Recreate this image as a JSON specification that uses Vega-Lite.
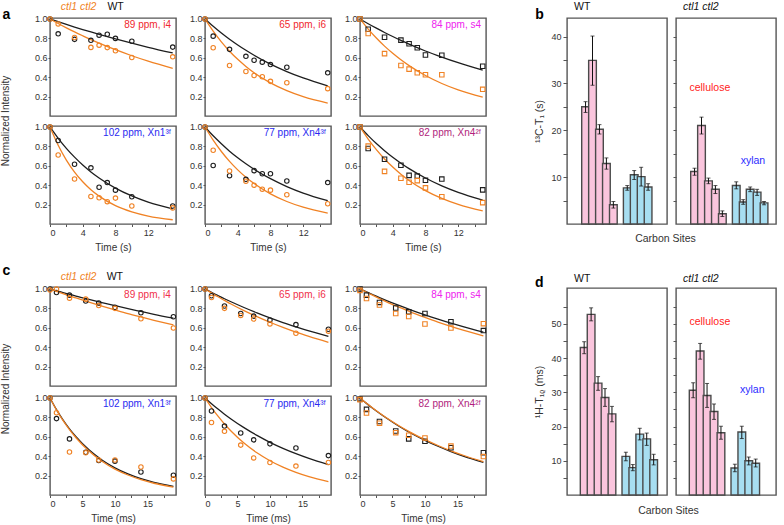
{
"$schema": "https://vega.github.io/schema/vega-lite/v6.json",
"padding": {"left": 0, "top": 1, "right": 0, "bottom": 0},
"background": "white",
"config": {
 "font": "Liberation Sans",
 "view": {"stroke": "#555", "strokeWidth": 1.4},
 "axis": {"labelFontSize": 9, "titleFontSize": 10, "titleFontWeight": "normal", "labelColor": "#333", "titleColor": "#333", "tickColor": "#555", "grid": false, "domain": false}
},
"datasets": {
 "a": [
  {"p":1,"s":"WT","k":"pt","t":0,"v":1.0},{"p":1,"s":"WT","k":"pt","t":1,"v":0.847},{"p":1,"s":"WT","k":"pt","t":3,"v":0.79},{"p":1,"s":"WT","k":"pt","t":5,"v":0.78},{"p":1,"s":"WT","k":"pt","t":6,"v":0.833},{"p":1,"s":"WT","k":"pt","t":7,"v":0.843},{"p":1,"s":"WT","k":"pt","t":8,"v":0.80},{"p":1,"s":"WT","k":"pt","t":10,"v":0.77},{"p":1,"s":"WT","k":"pt","t":15,"v":0.71},
  {"p":1,"s":"ctl","k":"pt","t":0,"v":1.0},{"p":1,"s":"ctl","k":"pt","t":1,"v":0.949},{"p":1,"s":"ctl","k":"pt","t":3,"v":0.809},{"p":1,"s":"ctl","k":"pt","t":5,"v":0.707},{"p":1,"s":"ctl","k":"pt","t":6,"v":0.73},{"p":1,"s":"ctl","k":"pt","t":7,"v":0.705},{"p":1,"s":"ctl","k":"pt","t":8,"v":0.673},{"p":1,"s":"ctl","k":"pt","t":10,"v":0.603},{"p":1,"s":"ctl","k":"pt","t":15,"v":0.61},
  {"p":2,"s":"WT","k":"pt","t":0,"v":1.0},{"p":2,"s":"WT","k":"pt","t":1,"v":0.823},{"p":2,"s":"WT","k":"pt","t":3,"v":0.687},{"p":2,"s":"WT","k":"pt","t":5,"v":0.615},{"p":2,"s":"WT","k":"pt","t":6,"v":0.575},{"p":2,"s":"WT","k":"pt","t":7,"v":0.555},{"p":2,"s":"WT","k":"pt","t":8,"v":0.53},{"p":2,"s":"WT","k":"pt","t":10,"v":0.503},{"p":2,"s":"WT","k":"pt","t":15,"v":0.445},
  {"p":2,"s":"ctl","k":"pt","t":0,"v":1.0},{"p":2,"s":"ctl","k":"pt","t":1,"v":0.704},{"p":2,"s":"ctl","k":"pt","t":3,"v":0.52},{"p":2,"s":"ctl","k":"pt","t":5,"v":0.459},{"p":2,"s":"ctl","k":"pt","t":6,"v":0.418},{"p":2,"s":"ctl","k":"pt","t":7,"v":0.405},{"p":2,"s":"ctl","k":"pt","t":8,"v":0.357},{"p":2,"s":"ctl","k":"pt","t":10,"v":0.343},{"p":2,"s":"ctl","k":"pt","t":15,"v":0.282},
  {"p":3,"s":"WT","k":"pt","t":0,"v":1.0},{"p":3,"s":"WT","k":"pt","t":1,"v":0.894},{"p":3,"s":"WT","k":"pt","t":3,"v":0.812},{"p":3,"s":"WT","k":"pt","t":5,"v":0.782},{"p":3,"s":"WT","k":"pt","t":6,"v":0.745},{"p":3,"s":"WT","k":"pt","t":7,"v":0.704},{"p":3,"s":"WT","k":"pt","t":8,"v":0.629},{"p":3,"s":"WT","k":"pt","t":10,"v":0.626},{"p":3,"s":"WT","k":"pt","t":15,"v":0.513},
  {"p":3,"s":"ctl","k":"pt","t":0,"v":1.0},{"p":3,"s":"ctl","k":"pt","t":1,"v":0.85},{"p":3,"s":"ctl","k":"pt","t":3,"v":0.643},{"p":3,"s":"ctl","k":"pt","t":5,"v":0.52},{"p":3,"s":"ctl","k":"pt","t":6,"v":0.483},{"p":3,"s":"ctl","k":"pt","t":7,"v":0.445},{"p":3,"s":"ctl","k":"pt","t":8,"v":0.425},{"p":3,"s":"ctl","k":"pt","t":10,"v":0.425},{"p":3,"s":"ctl","k":"pt","t":15,"v":0.275},
  {"p":4,"s":"WT","k":"pt","t":0,"v":1.0},{"p":4,"s":"WT","k":"pt","t":1,"v":0.86},{"p":4,"s":"WT","k":"pt","t":3,"v":0.616},{"p":4,"s":"WT","k":"pt","t":5,"v":0.579},{"p":4,"s":"WT","k":"pt","t":6,"v":0.379},{"p":4,"s":"WT","k":"pt","t":7,"v":0.427},{"p":4,"s":"WT","k":"pt","t":8,"v":0.349},{"p":4,"s":"WT","k":"pt","t":10,"v":0.281},{"p":4,"s":"WT","k":"pt","t":15,"v":0.186},
  {"p":4,"s":"ctl","k":"pt","t":0,"v":1.0},{"p":4,"s":"ctl","k":"pt","t":1,"v":0.711},{"p":4,"s":"ctl","k":"pt","t":3,"v":0.464},{"p":4,"s":"ctl","k":"pt","t":5,"v":0.284},{"p":4,"s":"ctl","k":"pt","t":6,"v":0.271},{"p":4,"s":"ctl","k":"pt","t":7,"v":0.23},{"p":4,"s":"ctl","k":"pt","t":8,"v":0.267},{"p":4,"s":"ctl","k":"pt","t":10,"v":0.186},{"p":4,"s":"ctl","k":"pt","t":15,"v":0.166},
  {"p":5,"s":"WT","k":"pt","t":0,"v":1.0},{"p":5,"s":"WT","k":"pt","t":1,"v":0.603},{"p":5,"s":"WT","k":"pt","t":3,"v":0.498},{"p":5,"s":"WT","k":"pt","t":5,"v":0.46},{"p":5,"s":"WT","k":"pt","t":6,"v":0.55},{"p":5,"s":"WT","k":"pt","t":7,"v":0.518},{"p":5,"s":"WT","k":"pt","t":8,"v":0.518},{"p":5,"s":"WT","k":"pt","t":10,"v":0.443},{"p":5,"s":"WT","k":"pt","t":15,"v":0.427},
  {"p":5,"s":"ctl","k":"pt","t":0,"v":1.0},{"p":5,"s":"ctl","k":"pt","t":1,"v":0.76},{"p":5,"s":"ctl","k":"pt","t":3,"v":0.546},{"p":5,"s":"ctl","k":"pt","t":5,"v":0.44},{"p":5,"s":"ctl","k":"pt","t":6,"v":0.40},{"p":5,"s":"ctl","k":"pt","t":7,"v":0.359},{"p":5,"s":"ctl","k":"pt","t":8,"v":0.349},{"p":5,"s":"ctl","k":"pt","t":10,"v":0.301},{"p":5,"s":"ctl","k":"pt","t":15,"v":0.209},
  {"p":6,"s":"WT","k":"pt","t":0,"v":1.0},{"p":6,"s":"WT","k":"pt","t":1,"v":0.778},{"p":6,"s":"WT","k":"pt","t":3,"v":0.667},{"p":6,"s":"WT","k":"pt","t":5,"v":0.606},{"p":6,"s":"WT","k":"pt","t":6,"v":0.501},{"p":6,"s":"WT","k":"pt","t":7,"v":0.494},{"p":6,"s":"WT","k":"pt","t":8,"v":0.45},{"p":6,"s":"WT","k":"pt","t":10,"v":0.463},{"p":6,"s":"WT","k":"pt","t":15,"v":0.352},
  {"p":6,"s":"ctl","k":"pt","t":0,"v":1.0},{"p":6,"s":"ctl","k":"pt","t":1,"v":0.803},{"p":6,"s":"ctl","k":"pt","t":3,"v":0.542},{"p":6,"s":"ctl","k":"pt","t":5,"v":0.471},{"p":6,"s":"ctl","k":"pt","t":6,"v":0.43},{"p":6,"s":"ctl","k":"pt","t":7,"v":0.447},{"p":6,"s":"ctl","k":"pt","t":8,"v":0.372},{"p":6,"s":"ctl","k":"pt","t":10,"v":0.281},{"p":6,"s":"ctl","k":"pt","t":15,"v":0.22},
  {"p":1,"s":"WT","k":"fit","t":0,"v":1},{"p":1,"s":"WT","k":"fit","t":1,"v":0.972},{"p":1,"s":"WT","k":"fit","t":2,"v":0.944},{"p":1,"s":"WT","k":"fit","t":3,"v":0.917},{"p":1,"s":"WT","k":"fit","t":4,"v":0.891},{"p":1,"s":"WT","k":"fit","t":5,"v":0.866},{"p":1,"s":"WT","k":"fit","t":6,"v":0.842},{"p":1,"s":"WT","k":"fit","t":8,"v":0.795},{"p":1,"s":"WT","k":"fit","t":10,"v":0.75},{"p":1,"s":"WT","k":"fit","t":12,"v":0.708},{"p":1,"s":"WT","k":"fit","t":15,"v":0.65},
  {"p":1,"s":"ctl","k":"fit","t":0,"v":1},{"p":1,"s":"ctl","k":"fit","t":1,"v":0.953},{"p":1,"s":"ctl","k":"fit","t":2,"v":0.909},{"p":1,"s":"ctl","k":"fit","t":3,"v":0.867},{"p":1,"s":"ctl","k":"fit","t":4,"v":0.827},{"p":1,"s":"ctl","k":"fit","t":5,"v":0.788},{"p":1,"s":"ctl","k":"fit","t":6,"v":0.751},{"p":1,"s":"ctl","k":"fit","t":8,"v":0.683},{"p":1,"s":"ctl","k":"fit","t":10,"v":0.621},{"p":1,"s":"ctl","k":"fit","t":12,"v":0.565},{"p":1,"s":"ctl","k":"fit","t":15,"v":0.49},
  {"p":2,"s":"WT","k":"fit","t":0,"v":1},{"p":2,"s":"WT","k":"fit","t":1,"v":0.925},{"p":2,"s":"WT","k":"fit","t":2,"v":0.855},{"p":2,"s":"WT","k":"fit","t":3,"v":0.791},{"p":2,"s":"WT","k":"fit","t":4,"v":0.732},{"p":2,"s":"WT","k":"fit","t":5,"v":0.677},{"p":2,"s":"WT","k":"fit","t":6,"v":0.626},{"p":2,"s":"WT","k":"fit","t":8,"v":0.535},{"p":2,"s":"WT","k":"fit","t":10,"v":0.458},{"p":2,"s":"WT","k":"fit","t":12,"v":0.392},{"p":2,"s":"WT","k":"fit","t":15,"v":0.31},
  {"p":2,"s":"ctl","k":"fit","t":0,"v":1},{"p":2,"s":"ctl","k":"fit","t":1,"v":0.874},{"p":2,"s":"ctl","k":"fit","t":2,"v":0.764},{"p":2,"s":"ctl","k":"fit","t":3,"v":0.668},{"p":2,"s":"ctl","k":"fit","t":4,"v":0.584},{"p":2,"s":"ctl","k":"fit","t":5,"v":0.511},{"p":2,"s":"ctl","k":"fit","t":6,"v":0.446},{"p":2,"s":"ctl","k":"fit","t":8,"v":0.341},{"p":2,"s":"ctl","k":"fit","t":10,"v":0.261},{"p":2,"s":"ctl","k":"fit","t":12,"v":0.199},{"p":2,"s":"ctl","k":"fit","t":15,"v":0.133},
  {"p":3,"s":"WT","k":"fit","t":0,"v":1},{"p":3,"s":"WT","k":"fit","t":1,"v":0.951},{"p":3,"s":"WT","k":"fit","t":2,"v":0.905},{"p":3,"s":"WT","k":"fit","t":3,"v":0.861},{"p":3,"s":"WT","k":"fit","t":4,"v":0.819},{"p":3,"s":"WT","k":"fit","t":5,"v":0.779},{"p":3,"s":"WT","k":"fit","t":6,"v":0.741},{"p":3,"s":"WT","k":"fit","t":8,"v":0.67},{"p":3,"s":"WT","k":"fit","t":10,"v":0.607},{"p":3,"s":"WT","k":"fit","t":12,"v":0.549},{"p":3,"s":"WT","k":"fit","t":15,"v":0.472},
  {"p":3,"s":"ctl","k":"fit","t":0,"v":1},{"p":3,"s":"ctl","k":"fit","t":1,"v":0.896},{"p":3,"s":"ctl","k":"fit","t":2,"v":0.804},{"p":3,"s":"ctl","k":"fit","t":3,"v":0.72},{"p":3,"s":"ctl","k":"fit","t":4,"v":0.646},{"p":3,"s":"ctl","k":"fit","t":5,"v":0.579},{"p":3,"s":"ctl","k":"fit","t":6,"v":0.519},{"p":3,"s":"ctl","k":"fit","t":8,"v":0.417},{"p":3,"s":"ctl","k":"fit","t":10,"v":0.335},{"p":3,"s":"ctl","k":"fit","t":12,"v":0.269},{"p":3,"s":"ctl","k":"fit","t":15,"v":0.194},
  {"p":4,"s":"WT","k":"fit","t":0,"v":1},{"p":4,"s":"WT","k":"fit","t":1,"v":0.883},{"p":4,"s":"WT","k":"fit","t":2,"v":0.78},{"p":4,"s":"WT","k":"fit","t":3,"v":0.689},{"p":4,"s":"WT","k":"fit","t":4,"v":0.608},{"p":4,"s":"WT","k":"fit","t":5,"v":0.537},{"p":4,"s":"WT","k":"fit","t":6,"v":0.475},{"p":4,"s":"WT","k":"fit","t":8,"v":0.37},{"p":4,"s":"WT","k":"fit","t":10,"v":0.289},{"p":4,"s":"WT","k":"fit","t":12,"v":0.225},{"p":4,"s":"WT","k":"fit","t":15,"v":0.155},
  {"p":4,"s":"ctl","k":"fit","t":0,"v":1},{"p":4,"s":"ctl","k":"fit","t":1,"v":0.812},{"p":4,"s":"ctl","k":"fit","t":2,"v":0.659},{"p":4,"s":"ctl","k":"fit","t":3,"v":0.535},{"p":4,"s":"ctl","k":"fit","t":4,"v":0.435},{"p":4,"s":"ctl","k":"fit","t":5,"v":0.353},{"p":4,"s":"ctl","k":"fit","t":6,"v":0.287},{"p":4,"s":"ctl","k":"fit","t":8,"v":0.189},{"p":4,"s":"ctl","k":"fit","t":10,"v":0.125},{"p":4,"s":"ctl","k":"fit","t":12,"v":0.082},{"p":4,"s":"ctl","k":"fit","t":15,"v":0.044},
  {"p":5,"s":"WT","k":"fit","t":0,"v":1},{"p":5,"s":"WT","k":"fit","t":1,"v":0.909},{"p":5,"s":"WT","k":"fit","t":2,"v":0.827},{"p":5,"s":"WT","k":"fit","t":3,"v":0.751},{"p":5,"s":"WT","k":"fit","t":4,"v":0.683},{"p":5,"s":"WT","k":"fit","t":5,"v":0.621},{"p":5,"s":"WT","k":"fit","t":6,"v":0.565},{"p":5,"s":"WT","k":"fit","t":8,"v":0.467},{"p":5,"s":"WT","k":"fit","t":10,"v":0.386},{"p":5,"s":"WT","k":"fit","t":12,"v":0.319},{"p":5,"s":"WT","k":"fit","t":15,"v":0.24},
  {"p":5,"s":"ctl","k":"fit","t":0,"v":1},{"p":5,"s":"ctl","k":"fit","t":1,"v":0.864},{"p":5,"s":"ctl","k":"fit","t":2,"v":0.747},{"p":5,"s":"ctl","k":"fit","t":3,"v":0.645},{"p":5,"s":"ctl","k":"fit","t":4,"v":0.558},{"p":5,"s":"ctl","k":"fit","t":5,"v":0.482},{"p":5,"s":"ctl","k":"fit","t":6,"v":0.417},{"p":5,"s":"ctl","k":"fit","t":8,"v":0.311},{"p":5,"s":"ctl","k":"fit","t":10,"v":0.232},{"p":5,"s":"ctl","k":"fit","t":12,"v":0.173},{"p":5,"s":"ctl","k":"fit","t":15,"v":0.112},
  {"p":6,"s":"WT","k":"fit","t":0,"v":1},{"p":6,"s":"WT","k":"fit","t":1,"v":0.911},{"p":6,"s":"WT","k":"fit","t":2,"v":0.829},{"p":6,"s":"WT","k":"fit","t":3,"v":0.756},{"p":6,"s":"WT","k":"fit","t":4,"v":0.688},{"p":6,"s":"WT","k":"fit","t":5,"v":0.627},{"p":6,"s":"WT","k":"fit","t":6,"v":0.571},{"p":6,"s":"WT","k":"fit","t":8,"v":0.474},{"p":6,"s":"WT","k":"fit","t":10,"v":0.393},{"p":6,"s":"WT","k":"fit","t":12,"v":0.326},{"p":6,"s":"WT","k":"fit","t":15,"v":0.246},
  {"p":6,"s":"ctl","k":"fit","t":0,"v":1},{"p":6,"s":"ctl","k":"fit","t":1,"v":0.875},{"p":6,"s":"ctl","k":"fit","t":2,"v":0.766},{"p":6,"s":"ctl","k":"fit","t":3,"v":0.67},{"p":6,"s":"ctl","k":"fit","t":4,"v":0.587},{"p":6,"s":"ctl","k":"fit","t":5,"v":0.513},{"p":6,"s":"ctl","k":"fit","t":6,"v":0.449},{"p":6,"s":"ctl","k":"fit","t":8,"v":0.344},{"p":6,"s":"ctl","k":"fit","t":10,"v":0.264},{"p":6,"s":"ctl","k":"fit","t":12,"v":0.202},{"p":6,"s":"ctl","k":"fit","t":15,"v":0.135}
 ],
 "c": [
  {"p":1,"s":"WT","k":"pt","t":0,"v":1.0},{"p":1,"s":"WT","k":"pt","t":1,"v":0.963},{"p":1,"s":"WT","k":"pt","t":3,"v":0.936},{"p":1,"s":"WT","k":"pt","t":5.5,"v":0.875},{"p":1,"s":"WT","k":"pt","t":7.5,"v":0.855},{"p":1,"s":"WT","k":"pt","t":10,"v":0.81},{"p":1,"s":"WT","k":"pt","t":14,"v":0.754},{"p":1,"s":"WT","k":"pt","t":19,"v":0.713},
  {"p":1,"s":"ctl","k":"pt","t":0,"v":0.99},{"p":1,"s":"ctl","k":"pt","t":1,"v":1.0},{"p":1,"s":"ctl","k":"pt","t":3,"v":0.905},{"p":1,"s":"ctl","k":"pt","t":5.5,"v":0.895},{"p":1,"s":"ctl","k":"pt","t":7.5,"v":0.83},{"p":1,"s":"ctl","k":"pt","t":10,"v":0.80},{"p":1,"s":"ctl","k":"pt","t":14,"v":0.693},{"p":1,"s":"ctl","k":"pt","t":19,"v":0.598},
  {"p":2,"s":"WT","k":"pt","t":0,"v":1.0},{"p":2,"s":"WT","k":"pt","t":1,"v":0.93},{"p":2,"s":"WT","k":"pt","t":3,"v":0.824},{"p":2,"s":"WT","k":"pt","t":5.5,"v":0.747},{"p":2,"s":"WT","k":"pt","t":7.5,"v":0.72},{"p":2,"s":"WT","k":"pt","t":10,"v":0.68},{"p":2,"s":"WT","k":"pt","t":14,"v":0.632},{"p":2,"s":"WT","k":"pt","t":19,"v":0.585},
  {"p":2,"s":"ctl","k":"pt","t":0,"v":1.0},{"p":2,"s":"ctl","k":"pt","t":1,"v":0.912},{"p":2,"s":"ctl","k":"pt","t":3,"v":0.80},{"p":2,"s":"ctl","k":"pt","t":5.5,"v":0.727},{"p":2,"s":"ctl","k":"pt","t":7.5,"v":0.69},{"p":2,"s":"ctl","k":"pt","t":10,"v":0.64},{"p":2,"s":"ctl","k":"pt","t":14,"v":0.544},{"p":2,"s":"ctl","k":"pt","t":19,"v":0.565},
  {"p":3,"s":"WT","k":"pt","t":0,"v":1.0},{"p":3,"s":"WT","k":"pt","t":1,"v":0.936},{"p":3,"s":"WT","k":"pt","t":3,"v":0.861},{"p":3,"s":"WT","k":"pt","t":5.5,"v":0.804},{"p":3,"s":"WT","k":"pt","t":7.5,"v":0.764},{"p":3,"s":"WT","k":"pt","t":10,"v":0.747},{"p":3,"s":"WT","k":"pt","t":14,"v":0.662},{"p":3,"s":"WT","k":"pt","t":19,"v":0.571},
  {"p":3,"s":"ctl","k":"pt","t":0,"v":0.985},{"p":3,"s":"ctl","k":"pt","t":1,"v":0.902},{"p":3,"s":"ctl","k":"pt","t":3,"v":0.834},{"p":3,"s":"ctl","k":"pt","t":5.5,"v":0.747},{"p":3,"s":"ctl","k":"pt","t":7.5,"v":0.716},{"p":3,"s":"ctl","k":"pt","t":10,"v":0.639},{"p":3,"s":"ctl","k":"pt","t":14,"v":0.598},{"p":3,"s":"ctl","k":"pt","t":19,"v":0.642},
  {"p":4,"s":"WT","k":"pt","t":0,"v":1.0},{"p":4,"s":"WT","k":"pt","t":1,"v":0.787},{"p":4,"s":"WT","k":"pt","t":3,"v":0.578},{"p":4,"s":"WT","k":"pt","t":5.5,"v":0.44},{"p":4,"s":"WT","k":"pt","t":7.5,"v":0.355},{"p":4,"s":"WT","k":"pt","t":10,"v":0.349},{"p":4,"s":"WT","k":"pt","t":14,"v":0.237},{"p":4,"s":"WT","k":"pt","t":19,"v":0.203},
  {"p":4,"s":"ctl","k":"pt","t":0,"v":1.0},{"p":4,"s":"ctl","k":"pt","t":1,"v":0.848},{"p":4,"s":"ctl","k":"pt","t":3,"v":0.443},{"p":4,"s":"ctl","k":"pt","t":5.5,"v":0.435},{"p":4,"s":"ctl","k":"pt","t":7.5,"v":0.36},{"p":4,"s":"ctl","k":"pt","t":10,"v":0.36},{"p":4,"s":"ctl","k":"pt","t":14,"v":0.288},{"p":4,"s":"ctl","k":"pt","t":19,"v":0.166},
  {"p":5,"s":"WT","k":"pt","t":0,"v":1.0},{"p":5,"s":"WT","k":"pt","t":1,"v":0.865},{"p":5,"s":"WT","k":"pt","t":3,"v":0.71},{"p":5,"s":"WT","k":"pt","t":5.5,"v":0.639},{"p":5,"s":"WT","k":"pt","t":7.5,"v":0.568},{"p":5,"s":"WT","k":"pt","t":10,"v":0.527},{"p":5,"s":"WT","k":"pt","t":14,"v":0.484},{"p":5,"s":"WT","k":"pt","t":19,"v":0.406},
  {"p":5,"s":"ctl","k":"pt","t":0,"v":1.0},{"p":5,"s":"ctl","k":"pt","t":1,"v":0.747},{"p":5,"s":"ctl","k":"pt","t":3,"v":0.656},{"p":5,"s":"ctl","k":"pt","t":5.5,"v":0.514},{"p":5,"s":"ctl","k":"pt","t":7.5,"v":0.382},{"p":5,"s":"ctl","k":"pt","t":10,"v":0.335},{"p":5,"s":"ctl","k":"pt","t":14,"v":0.298},{"p":5,"s":"ctl","k":"pt","t":19,"v":0.335},
  {"p":6,"s":"WT","k":"pt","t":0,"v":0.99},{"p":6,"s":"WT","k":"pt","t":1,"v":0.882},{"p":6,"s":"WT","k":"pt","t":3,"v":0.757},{"p":6,"s":"WT","k":"pt","t":5.5,"v":0.659},{"p":6,"s":"WT","k":"pt","t":7.5,"v":0.578},{"p":6,"s":"WT","k":"pt","t":10,"v":0.554},{"p":6,"s":"WT","k":"pt","t":14,"v":0.487},{"p":6,"s":"WT","k":"pt","t":19,"v":0.436},
  {"p":6,"s":"ctl","k":"pt","t":0,"v":0.983},{"p":6,"s":"ctl","k":"pt","t":1,"v":0.845},{"p":6,"s":"ctl","k":"pt","t":3,"v":0.74},{"p":6,"s":"ctl","k":"pt","t":5.5,"v":0.642},{"p":6,"s":"ctl","k":"pt","t":7.5,"v":0.615},{"p":6,"s":"ctl","k":"pt","t":10,"v":0.588},{"p":6,"s":"ctl","k":"pt","t":14,"v":0.504},{"p":6,"s":"ctl","k":"pt","t":19,"v":0.396},
  {"p":1,"s":"WT","k":"fit","t":0,"v":1},{"p":1,"s":"WT","k":"fit","t":1,"v":0.981},{"p":1,"s":"WT","k":"fit","t":2,"v":0.963},{"p":1,"s":"WT","k":"fit","t":3,"v":0.945},{"p":1,"s":"WT","k":"fit","t":4,"v":0.927},{"p":1,"s":"WT","k":"fit","t":6,"v":0.893},{"p":1,"s":"WT","k":"fit","t":8,"v":0.86},{"p":1,"s":"WT","k":"fit","t":10,"v":0.828},{"p":1,"s":"WT","k":"fit","t":12,"v":0.797},{"p":1,"s":"WT","k":"fit","t":14,"v":0.768},{"p":1,"s":"WT","k":"fit","t":16,"v":0.739},{"p":1,"s":"WT","k":"fit","t":19,"v":0.699},
  {"p":1,"s":"ctl","k":"fit","t":0,"v":1},{"p":1,"s":"ctl","k":"fit","t":1,"v":0.976},{"p":1,"s":"ctl","k":"fit","t":2,"v":0.952},{"p":1,"s":"ctl","k":"fit","t":3,"v":0.929},{"p":1,"s":"ctl","k":"fit","t":4,"v":0.907},{"p":1,"s":"ctl","k":"fit","t":6,"v":0.864},{"p":1,"s":"ctl","k":"fit","t":8,"v":0.823},{"p":1,"s":"ctl","k":"fit","t":10,"v":0.784},{"p":1,"s":"ctl","k":"fit","t":12,"v":0.746},{"p":1,"s":"ctl","k":"fit","t":14,"v":0.711},{"p":1,"s":"ctl","k":"fit","t":16,"v":0.677},{"p":1,"s":"ctl","k":"fit","t":19,"v":0.629},
  {"p":2,"s":"WT","k":"fit","t":0,"v":1},{"p":2,"s":"WT","k":"fit","t":1,"v":0.965},{"p":2,"s":"WT","k":"fit","t":2,"v":0.932},{"p":2,"s":"WT","k":"fit","t":3,"v":0.899},{"p":2,"s":"WT","k":"fit","t":4,"v":0.868},{"p":2,"s":"WT","k":"fit","t":6,"v":0.809},{"p":2,"s":"WT","k":"fit","t":8,"v":0.754},{"p":2,"s":"WT","k":"fit","t":10,"v":0.702},{"p":2,"s":"WT","k":"fit","t":12,"v":0.654},{"p":2,"s":"WT","k":"fit","t":14,"v":0.61},{"p":2,"s":"WT","k":"fit","t":16,"v":0.568},{"p":2,"s":"WT","k":"fit","t":19,"v":0.511},
  {"p":2,"s":"ctl","k":"fit","t":0,"v":1},{"p":2,"s":"ctl","k":"fit","t":1,"v":0.959},{"p":2,"s":"ctl","k":"fit","t":2,"v":0.919},{"p":2,"s":"ctl","k":"fit","t":3,"v":0.882},{"p":2,"s":"ctl","k":"fit","t":4,"v":0.845},{"p":2,"s":"ctl","k":"fit","t":6,"v":0.777},{"p":2,"s":"ctl","k":"fit","t":8,"v":0.715},{"p":2,"s":"ctl","k":"fit","t":10,"v":0.657},{"p":2,"s":"ctl","k":"fit","t":12,"v":0.604},{"p":2,"s":"ctl","k":"fit","t":14,"v":0.555},{"p":2,"s":"ctl","k":"fit","t":16,"v":0.511},{"p":2,"s":"ctl","k":"fit","t":19,"v":0.45},
  {"p":3,"s":"WT","k":"fit","t":0,"v":1},{"p":3,"s":"WT","k":"fit","t":1,"v":0.969},{"p":3,"s":"WT","k":"fit","t":2,"v":0.94},{"p":3,"s":"WT","k":"fit","t":3,"v":0.911},{"p":3,"s":"WT","k":"fit","t":4,"v":0.883},{"p":3,"s":"WT","k":"fit","t":6,"v":0.83},{"p":3,"s":"WT","k":"fit","t":8,"v":0.78},{"p":3,"s":"WT","k":"fit","t":10,"v":0.733},{"p":3,"s":"WT","k":"fit","t":12,"v":0.689},{"p":3,"s":"WT","k":"fit","t":14,"v":0.647},{"p":3,"s":"WT","k":"fit","t":16,"v":0.608},{"p":3,"s":"WT","k":"fit","t":19,"v":0.554},
  {"p":3,"s":"ctl","k":"fit","t":0,"v":1},{"p":3,"s":"ctl","k":"fit","t":1,"v":0.966},{"p":3,"s":"ctl","k":"fit","t":2,"v":0.933},{"p":3,"s":"ctl","k":"fit","t":3,"v":0.901},{"p":3,"s":"ctl","k":"fit","t":4,"v":0.87},{"p":3,"s":"ctl","k":"fit","t":6,"v":0.812},{"p":3,"s":"ctl","k":"fit","t":8,"v":0.757},{"p":3,"s":"ctl","k":"fit","t":10,"v":0.707},{"p":3,"s":"ctl","k":"fit","t":12,"v":0.659},{"p":3,"s":"ctl","k":"fit","t":14,"v":0.615},{"p":3,"s":"ctl","k":"fit","t":16,"v":0.574},{"p":3,"s":"ctl","k":"fit","t":19,"v":0.517},
  {"p":4,"s":"WT","k":"fit","t":0,"v":1},{"p":4,"s":"WT","k":"fit","t":1,"v":0.88},{"p":4,"s":"WT","k":"fit","t":2,"v":0.775},{"p":4,"s":"WT","k":"fit","t":3,"v":0.682},{"p":4,"s":"WT","k":"fit","t":4,"v":0.601},{"p":4,"s":"WT","k":"fit","t":6,"v":0.466},{"p":4,"s":"WT","k":"fit","t":8,"v":0.361},{"p":4,"s":"WT","k":"fit","t":10,"v":0.28},{"p":4,"s":"WT","k":"fit","t":12,"v":0.217},{"p":4,"s":"WT","k":"fit","t":14,"v":0.168},{"p":4,"s":"WT","k":"fit","t":16,"v":0.13},{"p":4,"s":"WT","k":"fit","t":19,"v":0.089},
  {"p":4,"s":"ctl","k":"fit","t":0,"v":1},{"p":4,"s":"ctl","k":"fit","t":1,"v":0.876},{"p":4,"s":"ctl","k":"fit","t":2,"v":0.768},{"p":4,"s":"ctl","k":"fit","t":3,"v":0.673},{"p":4,"s":"ctl","k":"fit","t":4,"v":0.59},{"p":4,"s":"ctl","k":"fit","t":6,"v":0.453},{"p":4,"s":"ctl","k":"fit","t":8,"v":0.348},{"p":4,"s":"ctl","k":"fit","t":10,"v":0.267},{"p":4,"s":"ctl","k":"fit","t":12,"v":0.206},{"p":4,"s":"ctl","k":"fit","t":14,"v":0.158},{"p":4,"s":"ctl","k":"fit","t":16,"v":0.121},{"p":4,"s":"ctl","k":"fit","t":19,"v":0.082},
  {"p":5,"s":"WT","k":"fit","t":0,"v":1},{"p":5,"s":"WT","k":"fit","t":1,"v":0.941},{"p":5,"s":"WT","k":"fit","t":2,"v":0.885},{"p":5,"s":"WT","k":"fit","t":3,"v":0.833},{"p":5,"s":"WT","k":"fit","t":4,"v":0.784},{"p":5,"s":"WT","k":"fit","t":6,"v":0.694},{"p":5,"s":"WT","k":"fit","t":8,"v":0.614},{"p":5,"s":"WT","k":"fit","t":10,"v":0.543},{"p":5,"s":"WT","k":"fit","t":12,"v":0.481},{"p":5,"s":"WT","k":"fit","t":14,"v":0.426},{"p":5,"s":"WT","k":"fit","t":16,"v":0.377},{"p":5,"s":"WT","k":"fit","t":19,"v":0.314},
  {"p":5,"s":"ctl","k":"fit","t":0,"v":1},{"p":5,"s":"ctl","k":"fit","t":1,"v":0.901},{"p":5,"s":"ctl","k":"fit","t":2,"v":0.812},{"p":5,"s":"ctl","k":"fit","t":3,"v":0.732},{"p":5,"s":"ctl","k":"fit","t":4,"v":0.659},{"p":5,"s":"ctl","k":"fit","t":6,"v":0.535},{"p":5,"s":"ctl","k":"fit","t":8,"v":0.435},{"p":5,"s":"ctl","k":"fit","t":10,"v":0.353},{"p":5,"s":"ctl","k":"fit","t":12,"v":0.287},{"p":5,"s":"ctl","k":"fit","t":14,"v":0.233},{"p":5,"s":"ctl","k":"fit","t":16,"v":0.189},{"p":5,"s":"ctl","k":"fit","t":19,"v":0.138},
  {"p":6,"s":"WT","k":"fit","t":0,"v":1},{"p":6,"s":"WT","k":"fit","t":1,"v":0.944},{"p":6,"s":"WT","k":"fit","t":2,"v":0.891},{"p":6,"s":"WT","k":"fit","t":3,"v":0.842},{"p":6,"s":"WT","k":"fit","t":4,"v":0.795},{"p":6,"s":"WT","k":"fit","t":6,"v":0.708},{"p":6,"s":"WT","k":"fit","t":8,"v":0.631},{"p":6,"s":"WT","k":"fit","t":10,"v":0.563},{"p":6,"s":"WT","k":"fit","t":12,"v":0.502},{"p":6,"s":"WT","k":"fit","t":14,"v":0.447},{"p":6,"s":"WT","k":"fit","t":16,"v":0.398},{"p":6,"s":"WT","k":"fit","t":19,"v":0.336},
  {"p":6,"s":"ctl","k":"fit","t":0,"v":1},{"p":6,"s":"ctl","k":"fit","t":1,"v":0.945},{"p":6,"s":"ctl","k":"fit","t":2,"v":0.894},{"p":6,"s":"ctl","k":"fit","t":3,"v":0.845},{"p":6,"s":"ctl","k":"fit","t":4,"v":0.799},{"p":6,"s":"ctl","k":"fit","t":6,"v":0.714},{"p":6,"s":"ctl","k":"fit","t":8,"v":0.638},{"p":6,"s":"ctl","k":"fit","t":10,"v":0.57},{"p":6,"s":"ctl","k":"fit","t":12,"v":0.51},{"p":6,"s":"ctl","k":"fit","t":14,"v":0.455},{"p":6,"s":"ctl","k":"fit","t":16,"v":0.407},{"p":6,"s":"ctl","k":"fit","t":19,"v":0.344}
 ],
 "bars": [
  {"f":"b","g":"WT","site":1,"poly":"cellulose","v":25.0,"lo":23.8,"hi":26.1},{"f":"b","g":"WT","site":2,"poly":"cellulose","v":34.9,"lo":29.6,"hi":40.1},{"f":"b","g":"WT","site":3,"poly":"cellulose","v":20.2,"lo":19.2,"hi":21.2},{"f":"b","g":"WT","site":4,"poly":"cellulose","v":12.9,"lo":11.7,"hi":14.1},{"f":"b","g":"WT","site":5,"poly":"cellulose","v":4.1,"lo":3.4,"hi":4.8},
  {"f":"b","g":"WT","site":7,"poly":"xylan","v":7.7,"lo":7.2,"hi":8.2},{"f":"b","g":"WT","site":8,"poly":"xylan","v":10.5,"lo":9.5,"hi":11.4},{"f":"b","g":"WT","site":9,"poly":"xylan","v":10.1,"lo":8.1,"hi":12.1},{"f":"b","g":"WT","site":10,"poly":"xylan","v":7.9,"lo":7.2,"hi":8.6},
  {"f":"b","g":"ctl","site":1,"poly":"cellulose","v":11.2,"lo":10.4,"hi":11.9},{"f":"b","g":"ctl","site":2,"poly":"cellulose","v":21.0,"lo":19.2,"hi":22.8},{"f":"b","g":"ctl","site":3,"poly":"cellulose","v":9.2,"lo":8.6,"hi":9.8},{"f":"b","g":"ctl","site":4,"poly":"cellulose","v":7.4,"lo":6.5,"hi":8.2},{"f":"b","g":"ctl","site":5,"poly":"cellulose","v":2.2,"lo":1.6,"hi":2.8},
  {"f":"b","g":"ctl","site":7,"poly":"xylan","v":8.2,"lo":7.5,"hi":9.0},{"f":"b","g":"ctl","site":8,"poly":"xylan","v":4.7,"lo":4.2,"hi":5.2},{"f":"b","g":"ctl","site":9,"poly":"xylan","v":7.4,"lo":6.9,"hi":7.9},{"f":"b","g":"ctl","site":10,"poly":"xylan","v":6.8,"lo":6.1,"hi":7.4},{"f":"b","g":"ctl","site":11,"poly":"xylan","v":4.5,"lo":4.1,"hi":4.8},
  {"f":"d","g":"WT","site":1,"poly":"cellulose","v":43.1,"lo":41.3,"hi":44.8},{"f":"d","g":"WT","site":2,"poly":"cellulose","v":52.8,"lo":50.9,"hi":54.7},{"f":"d","g":"WT","site":3,"poly":"cellulose","v":32.7,"lo":30.6,"hi":34.6},{"f":"d","g":"WT","site":4,"poly":"cellulose","v":28.5,"lo":25.9,"hi":31.1},{"f":"d","g":"WT","site":5,"poly":"cellulose","v":23.7,"lo":21.4,"hi":25.9},
  {"f":"d","g":"WT","site":7,"poly":"xylan","v":11.3,"lo":10.0,"hi":12.5},{"f":"d","g":"WT","site":8,"poly":"xylan","v":8.0,"lo":7.1,"hi":8.9},{"f":"d","g":"WT","site":9,"poly":"xylan","v":17.8,"lo":16.1,"hi":19.5},{"f":"d","g":"WT","site":10,"poly":"xylan","v":16.4,"lo":14.5,"hi":18.1},{"f":"d","g":"WT","site":11,"poly":"xylan","v":10.3,"lo":8.8,"hi":11.9},
  {"f":"d","g":"ctl","site":1,"poly":"cellulose","v":30.6,"lo":28.4,"hi":32.8},{"f":"d","g":"ctl","site":2,"poly":"cellulose","v":42.1,"lo":39.7,"hi":44.3},{"f":"d","g":"ctl","site":3,"poly":"cellulose","v":29.1,"lo":25.6,"hi":32.6},{"f":"d","g":"ctl","site":4,"poly":"cellulose","v":24.4,"lo":22.1,"hi":26.6},{"f":"d","g":"ctl","site":5,"poly":"cellulose","v":18.2,"lo":16.3,"hi":20.1},
  {"f":"d","g":"ctl","site":7,"poly":"xylan","v":7.9,"lo":6.8,"hi":9.0},{"f":"d","g":"ctl","site":8,"poly":"xylan","v":18.4,"lo":16.5,"hi":20.1},{"f":"d","g":"ctl","site":9,"poly":"xylan","v":10.0,"lo":8.8,"hi":11.1},{"f":"d","g":"ctl","site":10,"poly":"xylan","v":9.3,"lo":8.2,"hi":10.5}
 ],
 "lab": [
  {"p":1,"label":"89 ppm, i4"},{"p":2,"label":"65 ppm, i6"},{"p":3,"label":"84 ppm, s4"},{"p":4,"label":"102 ppm, Xn1³ᶠ"},{"p":5,"label":"77 ppm, Xn4³ᶠ"},{"p":6,"label":"82 ppm, Xn4²ᶠ"}
 ],
 "notes": [
  {"id":"a","txt":"a"},{"id":"b","txt":"b"},{"id":"c","txt":"c"},{"id":"d","txt":"d"},{"id":"wt","txt":"WT"},{"id":"ctl","txt":"ctl1 ctl2"},{"id":"cel","txt":"cellulose"},{"id":"xyl","txt":"xylan"},{"id":"ni","txt":"Normalized Intensity"}
 ]
},
"resolve": {"scale": {"x": "independent", "y": "independent", "color": "independent", "stroke": "independent"}},
"spacing": 45,
"hconcat": [
 {"vconcat": [
  {"concat": [
   {"width": 126, "height": 98, "layer": [
    {"data": {"name": "a"}, "transform": [{"filter": "datum.p==1 && datum.k=='fit'"}], "mark": {"type": "line", "strokeWidth": 1.3, "interpolate": "monotone"},
     "encoding": {"x": {"field": "t", "type": "quantitative", "scale": {"domain": [0,15.4], "nice": false, "zero": false}, "axis": null}, "y": {"field": "v", "type": "quantitative", "scale": {"domain": [0,1.01], "nice": false, "zero": false}, "axis": {"values": [0.2,0.4,0.6,0.8,1], "format": ".1f", "title": null, "tickSize": 2, "labelPadding": 1}}, "stroke": {"field": "s", "type": "nominal", "scale": {"domain": ["WT","ctl"], "range": ["#1e1e1e","#f08224"]}, "legend": null}}},
    {"data": {"name": "a"}, "transform": [{"filter": "datum.p==1 && datum.k=='pt'"}], "mark": {"type": "point", "shape": "circle", "filled": false, "strokeWidth": 1.1, "size": 20, "opacity": 1},
     "encoding": {"x": {"field": "t", "type": "quantitative", "scale": {"domain": [0,15.4], "nice": false, "zero": false}, "axis": null}, "y": {"field": "v", "type": "quantitative", "scale": {"domain": [0,1.01], "nice": false, "zero": false}, "axis": {"values": [0.2,0.4,0.6,0.8,1], "format": ".1f", "title": null, "tickSize": 2, "labelPadding": 1}}, "stroke": {"field": "s", "type": "nominal", "scale": {"domain": ["WT","ctl"], "range": ["#1e1e1e","#f08224"]}, "legend": null}}},
    {"data": {"name": "lab"}, "transform": [{"filter": "datum.p==1"}], "mark": {"type": "text", "align": "right", "baseline": "alphabetic", "fontSize": 10, "fill": "#f0282d"},
     "encoding": {"x": {"datum": 14.79, "type": "quantitative", "scale": {"domain": [0,15.4], "nice": false, "zero": false}, "axis": null}, "y": {"datum": 0.907, "type": "quantitative", "scale": {"domain": [0,1.01], "nice": false, "zero": false}, "axis": {"values": [0.2,0.4,0.6,0.8,1], "format": ".1f", "title": null, "tickSize": 2, "labelPadding": 1}}, "text": {"field": "label"}}},
    {"data": {"name": "notes"}, "transform": [{"filter": "datum.id=='ctl'"}], "mark": {"type": "text", "align": "left", "baseline": "alphabetic", "fontSize": 10.5, "fontStyle": "italic", "fill": "#f08224"},
     "encoding": {"x": {"datum": 1.31, "type": "quantitative", "scale": {"domain": [0,15.4], "nice": false, "zero": false}, "axis": null}, "y": {"datum": 1.09, "type": "quantitative", "scale": {"domain": [0,1.01], "nice": false, "zero": false}, "axis": {"values": [0.2,0.4,0.6,0.8,1], "format": ".1f", "title": null, "tickSize": 2, "labelPadding": 1}}, "text": {"field": "txt"}}},
    {"data": {"name": "notes"}, "transform": [{"filter": "datum.id=='wt'"}], "mark": {"type": "text", "align": "left", "baseline": "alphabetic", "fontSize": 10.5, "fill": "#111"},
     "encoding": {"x": {"datum": 7.02, "type": "quantitative", "scale": {"domain": [0,15.4], "nice": false, "zero": false}, "axis": null}, "y": {"datum": 1.09, "type": "quantitative", "scale": {"domain": [0,1.01], "nice": false, "zero": false}, "axis": {"values": [0.2,0.4,0.6,0.8,1], "format": ".1f", "title": null, "tickSize": 2, "labelPadding": 1}}, "text": {"field": "txt"}}},
    {"data": {"name": "notes"}, "transform": [{"filter": "datum.id=='a'"}], "mark": {"type": "text", "align": "left", "baseline": "alphabetic", "fontSize": 14, "fontWeight": "bold", "fill": "#000"},
     "encoding": {"x": {"datum": -5.82, "type": "quantitative", "scale": {"domain": [0,15.4], "nice": false, "zero": false}, "axis": null}, "y": {"datum": 0.997, "type": "quantitative", "scale": {"domain": [0,1.01], "nice": false, "zero": false}, "axis": {"values": [0.2,0.4,0.6,0.8,1], "format": ".1f", "title": null, "tickSize": 2, "labelPadding": 1}}, "text": {"field": "txt"}}}
   ]},
   {"width": 126, "height": 98, "layer": [
    {"data": {"name": "a"}, "transform": [{"filter": "datum.p==2 && datum.k=='fit'"}], "mark": {"type": "line", "strokeWidth": 1.3, "interpolate": "monotone"},
     "encoding": {"x": {"field": "t", "type": "quantitative", "scale": {"domain": [0,15.4], "nice": false, "zero": false}, "axis": null}, "y": {"field": "v", "type": "quantitative", "scale": {"domain": [0,1.01], "nice": false, "zero": false}, "axis": {"values": [0.2,0.4,0.6,0.8,1], "format": ".1f", "title": null, "tickSize": 2, "labelPadding": 1}}, "stroke": {"field": "s", "type": "nominal", "scale": {"domain": ["WT","ctl"], "range": ["#1e1e1e","#f08224"]}, "legend": null}}},
    {"data": {"name": "a"}, "transform": [{"filter": "datum.p==2 && datum.k=='pt'"}], "mark": {"type": "point", "shape": "circle", "filled": false, "strokeWidth": 1.1, "size": 20, "opacity": 1},
     "encoding": {"x": {"field": "t", "type": "quantitative", "scale": {"domain": [0,15.4], "nice": false, "zero": false}, "axis": null}, "y": {"field": "v", "type": "quantitative", "scale": {"domain": [0,1.01], "nice": false, "zero": false}, "axis": {"values": [0.2,0.4,0.6,0.8,1], "format": ".1f", "title": null, "tickSize": 2, "labelPadding": 1}}, "stroke": {"field": "s", "type": "nominal", "scale": {"domain": ["WT","ctl"], "range": ["#1e1e1e","#f08224"]}, "legend": null}}},
    {"data": {"name": "lab"}, "transform": [{"filter": "datum.p==2"}], "mark": {"type": "text", "align": "right", "baseline": "alphabetic", "fontSize": 10, "fill": "#f0282d"},
     "encoding": {"x": {"datum": 14.79, "type": "quantitative", "scale": {"domain": [0,15.4], "nice": false, "zero": false}, "axis": null}, "y": {"datum": 0.907, "type": "quantitative", "scale": {"domain": [0,1.01], "nice": false, "zero": false}, "axis": {"values": [0.2,0.4,0.6,0.8,1], "format": ".1f", "title": null, "tickSize": 2, "labelPadding": 1}}, "text": {"field": "label"}}}
   ]},
   {"width": 126, "height": 98, "layer": [
    {"data": {"name": "a"}, "transform": [{"filter": "datum.p==3 && datum.k=='fit'"}], "mark": {"type": "line", "strokeWidth": 1.3, "interpolate": "monotone"},
     "encoding": {"x": {"field": "t", "type": "quantitative", "scale": {"domain": [0,15.4], "nice": false, "zero": false}, "axis": null}, "y": {"field": "v", "type": "quantitative", "scale": {"domain": [0,1.01], "nice": false, "zero": false}, "axis": {"values": [0.2,0.4,0.6,0.8,1], "format": ".1f", "title": null, "tickSize": 2, "labelPadding": 1}}, "stroke": {"field": "s", "type": "nominal", "scale": {"domain": ["WT","ctl"], "range": ["#1e1e1e","#f08224"]}, "legend": null}}},
    {"data": {"name": "a"}, "transform": [{"filter": "datum.p==3 && datum.k=='pt'"}], "mark": {"type": "point", "shape": "square", "filled": false, "strokeWidth": 1.1, "size": 20, "opacity": 1},
     "encoding": {"x": {"field": "t", "type": "quantitative", "scale": {"domain": [0,15.4], "nice": false, "zero": false}, "axis": null}, "y": {"field": "v", "type": "quantitative", "scale": {"domain": [0,1.01], "nice": false, "zero": false}, "axis": {"values": [0.2,0.4,0.6,0.8,1], "format": ".1f", "title": null, "tickSize": 2, "labelPadding": 1}}, "stroke": {"field": "s", "type": "nominal", "scale": {"domain": ["WT","ctl"], "range": ["#1e1e1e","#f08224"]}, "legend": null}}},
    {"data": {"name": "lab"}, "transform": [{"filter": "datum.p==3"}], "mark": {"type": "text", "align": "right", "baseline": "alphabetic", "fontSize": 10, "fill": "#ee22ee"},
     "encoding": {"x": {"datum": 14.79, "type": "quantitative", "scale": {"domain": [0,15.4], "nice": false, "zero": false}, "axis": null}, "y": {"datum": 0.907, "type": "quantitative", "scale": {"domain": [0,1.01], "nice": false, "zero": false}, "axis": {"values": [0.2,0.4,0.6,0.8,1], "format": ".1f", "title": null, "tickSize": 2, "labelPadding": 1}}, "text": {"field": "label"}}}
   ]},
   {"width": 126, "height": 98, "layer": [
    {"data": {"name": "a"}, "transform": [{"filter": "datum.p==4 && datum.k=='fit'"}], "mark": {"type": "line", "strokeWidth": 1.3, "interpolate": "monotone"},
     "encoding": {"x": {"field": "t", "type": "quantitative", "scale": {"domain": [0,15.4], "nice": false, "zero": false}, "axis": {"values": [0,2,4,6,8,10,12,14], "labelExpr": "datum.value % 4 === 0 ? datum.label : ''", "title": "Time (s)", "tickSize": 2.5, "labelPadding": 1.5, "titlePadding": 5.5}}, "y": {"field": "v", "type": "quantitative", "scale": {"domain": [0,1.01], "nice": false, "zero": false}, "axis": {"values": [0.2,0.4,0.6,0.8,1], "format": ".1f", "title": null, "tickSize": 2, "labelPadding": 1}}, "stroke": {"field": "s", "type": "nominal", "scale": {"domain": ["WT","ctl"], "range": ["#1e1e1e","#f08224"]}, "legend": null}}},
    {"data": {"name": "a"}, "transform": [{"filter": "datum.p==4 && datum.k=='pt'"}], "mark": {"type": "point", "shape": "circle", "filled": false, "strokeWidth": 1.1, "size": 20, "opacity": 1},
     "encoding": {"x": {"field": "t", "type": "quantitative", "scale": {"domain": [0,15.4], "nice": false, "zero": false}, "axis": {"values": [0,2,4,6,8,10,12,14], "labelExpr": "datum.value % 4 === 0 ? datum.label : ''", "title": "Time (s)", "tickSize": 2.5, "labelPadding": 1.5, "titlePadding": 5.5}}, "y": {"field": "v", "type": "quantitative", "scale": {"domain": [0,1.01], "nice": false, "zero": false}, "axis": {"values": [0.2,0.4,0.6,0.8,1], "format": ".1f", "title": null, "tickSize": 2, "labelPadding": 1}}, "stroke": {"field": "s", "type": "nominal", "scale": {"domain": ["WT","ctl"], "range": ["#1e1e1e","#f08224"]}, "legend": null}}},
    {"data": {"name": "lab"}, "transform": [{"filter": "datum.p==4"}], "mark": {"type": "text", "align": "right", "baseline": "alphabetic", "fontSize": 10, "fill": "#2a2af0"},
     "encoding": {"x": {"datum": 14.79, "type": "quantitative", "scale": {"domain": [0,15.4], "nice": false, "zero": false}, "axis": {"values": [0,2,4,6,8,10,12,14], "labelExpr": "datum.value % 4 === 0 ? datum.label : ''", "title": "Time (s)", "tickSize": 2.5, "labelPadding": 1.5, "titlePadding": 5.5}}, "y": {"datum": 0.907, "type": "quantitative", "scale": {"domain": [0,1.01], "nice": false, "zero": false}, "axis": {"values": [0.2,0.4,0.6,0.8,1], "format": ".1f", "title": null, "tickSize": 2, "labelPadding": 1}}, "text": {"field": "label"}}},
    {"data": {"name": "notes"}, "transform": [{"filter": "datum.id=='ni'"}], "mark": {"type": "text", "align": "center", "baseline": "middle", "angle": 270, "fontSize": 10, "fill": "#333"},
     "encoding": {"x": {"datum": -5.38, "type": "quantitative", "scale": {"domain": [0,15.4], "nice": false, "zero": false}, "axis": {"values": [0,2,4,6,8,10,12,14], "labelExpr": "datum.value % 4 === 0 ? datum.label : ''", "title": "Time (s)", "tickSize": 2.5, "labelPadding": 1.5, "titlePadding": 5.5}}, "y": {"datum": 1.062, "type": "quantitative", "scale": {"domain": [0,1.01], "nice": false, "zero": false}, "axis": {"values": [0.2,0.4,0.6,0.8,1], "format": ".1f", "title": null, "tickSize": 2, "labelPadding": 1}}, "text": {"field": "txt"}}}
   ]},
   {"width": 126, "height": 98, "layer": [
    {"data": {"name": "a"}, "transform": [{"filter": "datum.p==5 && datum.k=='fit'"}], "mark": {"type": "line", "strokeWidth": 1.3, "interpolate": "monotone"},
     "encoding": {"x": {"field": "t", "type": "quantitative", "scale": {"domain": [0,15.4], "nice": false, "zero": false}, "axis": {"values": [0,2,4,6,8,10,12,14], "labelExpr": "datum.value % 4 === 0 ? datum.label : ''", "title": "Time (s)", "tickSize": 2.5, "labelPadding": 1.5, "titlePadding": 5.5}}, "y": {"field": "v", "type": "quantitative", "scale": {"domain": [0,1.01], "nice": false, "zero": false}, "axis": {"values": [0.2,0.4,0.6,0.8,1], "format": ".1f", "title": null, "tickSize": 2, "labelPadding": 1}}, "stroke": {"field": "s", "type": "nominal", "scale": {"domain": ["WT","ctl"], "range": ["#1e1e1e","#f08224"]}, "legend": null}}},
    {"data": {"name": "a"}, "transform": [{"filter": "datum.p==5 && datum.k=='pt'"}], "mark": {"type": "point", "shape": "circle", "filled": false, "strokeWidth": 1.1, "size": 20, "opacity": 1},
     "encoding": {"x": {"field": "t", "type": "quantitative", "scale": {"domain": [0,15.4], "nice": false, "zero": false}, "axis": {"values": [0,2,4,6,8,10,12,14], "labelExpr": "datum.value % 4 === 0 ? datum.label : ''", "title": "Time (s)", "tickSize": 2.5, "labelPadding": 1.5, "titlePadding": 5.5}}, "y": {"field": "v", "type": "quantitative", "scale": {"domain": [0,1.01], "nice": false, "zero": false}, "axis": {"values": [0.2,0.4,0.6,0.8,1], "format": ".1f", "title": null, "tickSize": 2, "labelPadding": 1}}, "stroke": {"field": "s", "type": "nominal", "scale": {"domain": ["WT","ctl"], "range": ["#1e1e1e","#f08224"]}, "legend": null}}},
    {"data": {"name": "lab"}, "transform": [{"filter": "datum.p==5"}], "mark": {"type": "text", "align": "right", "baseline": "alphabetic", "fontSize": 10, "fill": "#2a2af0"},
     "encoding": {"x": {"datum": 14.79, "type": "quantitative", "scale": {"domain": [0,15.4], "nice": false, "zero": false}, "axis": {"values": [0,2,4,6,8,10,12,14], "labelExpr": "datum.value % 4 === 0 ? datum.label : ''", "title": "Time (s)", "tickSize": 2.5, "labelPadding": 1.5, "titlePadding": 5.5}}, "y": {"datum": 0.907, "type": "quantitative", "scale": {"domain": [0,1.01], "nice": false, "zero": false}, "axis": {"values": [0.2,0.4,0.6,0.8,1], "format": ".1f", "title": null, "tickSize": 2, "labelPadding": 1}}, "text": {"field": "label"}}}
   ]},
   {"width": 126, "height": 98, "layer": [
    {"data": {"name": "a"}, "transform": [{"filter": "datum.p==6 && datum.k=='fit'"}], "mark": {"type": "line", "strokeWidth": 1.3, "interpolate": "monotone"},
     "encoding": {"x": {"field": "t", "type": "quantitative", "scale": {"domain": [0,15.4], "nice": false, "zero": false}, "axis": {"values": [0,2,4,6,8,10,12,14], "labelExpr": "datum.value % 4 === 0 ? datum.label : ''", "title": "Time (s)", "tickSize": 2.5, "labelPadding": 1.5, "titlePadding": 5.5}}, "y": {"field": "v", "type": "quantitative", "scale": {"domain": [0,1.01], "nice": false, "zero": false}, "axis": {"values": [0.2,0.4,0.6,0.8,1], "format": ".1f", "title": null, "tickSize": 2, "labelPadding": 1}}, "stroke": {"field": "s", "type": "nominal", "scale": {"domain": ["WT","ctl"], "range": ["#1e1e1e","#f08224"]}, "legend": null}}},
    {"data": {"name": "a"}, "transform": [{"filter": "datum.p==6 && datum.k=='pt'"}], "mark": {"type": "point", "shape": "square", "filled": false, "strokeWidth": 1.1, "size": 20, "opacity": 1},
     "encoding": {"x": {"field": "t", "type": "quantitative", "scale": {"domain": [0,15.4], "nice": false, "zero": false}, "axis": {"values": [0,2,4,6,8,10,12,14], "labelExpr": "datum.value % 4 === 0 ? datum.label : ''", "title": "Time (s)", "tickSize": 2.5, "labelPadding": 1.5, "titlePadding": 5.5}}, "y": {"field": "v", "type": "quantitative", "scale": {"domain": [0,1.01], "nice": false, "zero": false}, "axis": {"values": [0.2,0.4,0.6,0.8,1], "format": ".1f", "title": null, "tickSize": 2, "labelPadding": 1}}, "stroke": {"field": "s", "type": "nominal", "scale": {"domain": ["WT","ctl"], "range": ["#1e1e1e","#f08224"]}, "legend": null}}},
    {"data": {"name": "lab"}, "transform": [{"filter": "datum.p==6"}], "mark": {"type": "text", "align": "right", "baseline": "alphabetic", "fontSize": 10, "fill": "#b01e7c"},
     "encoding": {"x": {"datum": 14.79, "type": "quantitative", "scale": {"domain": [0,15.4], "nice": false, "zero": false}, "axis": {"values": [0,2,4,6,8,10,12,14], "labelExpr": "datum.value % 4 === 0 ? datum.label : ''", "title": "Time (s)", "tickSize": 2.5, "labelPadding": 1.5, "titlePadding": 5.5}}, "y": {"datum": 0.907, "type": "quantitative", "scale": {"domain": [0,1.01], "nice": false, "zero": false}, "axis": {"values": [0.2,0.4,0.6,0.8,1], "format": ".1f", "title": null, "tickSize": 2, "labelPadding": 1}}, "text": {"field": "label"}}}
   ]}
  ], "columns": 3, "spacing": {"row": 10, "column": 29}, "bounds": "flush", "resolve": {"scale": {"x": "independent", "y": "independent"}}},
  {"concat": [
   {"width": 126, "height": 99, "layer": [
    {"data": {"name": "c"}, "transform": [{"filter": "datum.p==1 && datum.k=='fit'"}], "mark": {"type": "line", "strokeWidth": 1.3, "interpolate": "monotone"},
     "encoding": {"x": {"field": "t", "type": "quantitative", "scale": {"domain": [0,19.4], "nice": false, "zero": false}, "axis": null}, "y": {"field": "v", "type": "quantitative", "scale": {"domain": [0,1.02], "nice": false, "zero": false}, "axis": {"values": [0.2,0.4,0.6,0.8,1], "format": ".1f", "title": null, "tickSize": 2, "labelPadding": 1}}, "stroke": {"field": "s", "type": "nominal", "scale": {"domain": ["WT","ctl"], "range": ["#1e1e1e","#f08224"]}, "legend": null}}},
    {"data": {"name": "c"}, "transform": [{"filter": "datum.p==1 && datum.k=='pt'"}], "mark": {"type": "point", "shape": "circle", "filled": false, "strokeWidth": 1.1, "size": 20, "opacity": 1},
     "encoding": {"x": {"field": "t", "type": "quantitative", "scale": {"domain": [0,19.4], "nice": false, "zero": false}, "axis": null}, "y": {"field": "v", "type": "quantitative", "scale": {"domain": [0,1.02], "nice": false, "zero": false}, "axis": {"values": [0.2,0.4,0.6,0.8,1], "format": ".1f", "title": null, "tickSize": 2, "labelPadding": 1}}, "stroke": {"field": "s", "type": "nominal", "scale": {"domain": ["WT","ctl"], "range": ["#1e1e1e","#f08224"]}, "legend": null}}},
    {"data": {"name": "lab"}, "transform": [{"filter": "datum.p==1"}], "mark": {"type": "text", "align": "right", "baseline": "alphabetic", "fontSize": 10, "fill": "#f0304a"},
     "encoding": {"x": {"datum": 18.6, "type": "quantitative", "scale": {"domain": [0,19.4], "nice": false, "zero": false}, "axis": null}, "y": {"datum": 0.907, "type": "quantitative", "scale": {"domain": [0,1.02], "nice": false, "zero": false}, "axis": {"values": [0.2,0.4,0.6,0.8,1], "format": ".1f", "title": null, "tickSize": 2, "labelPadding": 1}}, "text": {"field": "label"}}},
    {"data": {"name": "notes"}, "transform": [{"filter": "datum.id=='ctl'"}], "mark": {"type": "text", "align": "left", "baseline": "alphabetic", "fontSize": 10.5, "fontStyle": "italic", "fill": "#f08224"},
     "encoding": {"x": {"datum": 1.65, "type": "quantitative", "scale": {"domain": [0,19.4], "nice": false, "zero": false}, "axis": null}, "y": {"datum": 1.092, "type": "quantitative", "scale": {"domain": [0,1.02], "nice": false, "zero": false}, "axis": {"values": [0.2,0.4,0.6,0.8,1], "format": ".1f", "title": null, "tickSize": 2, "labelPadding": 1}}, "text": {"field": "txt"}}},
    {"data": {"name": "notes"}, "transform": [{"filter": "datum.id=='wt'"}], "mark": {"type": "text", "align": "left", "baseline": "alphabetic", "fontSize": 10.5, "fill": "#111"},
     "encoding": {"x": {"datum": 8.73, "type": "quantitative", "scale": {"domain": [0,19.4], "nice": false, "zero": false}, "axis": null}, "y": {"datum": 1.092, "type": "quantitative", "scale": {"domain": [0,1.02], "nice": false, "zero": false}, "axis": {"values": [0.2,0.4,0.6,0.8,1], "format": ".1f", "title": null, "tickSize": 2, "labelPadding": 1}}, "text": {"field": "txt"}}},
    {"data": {"name": "notes"}, "transform": [{"filter": "datum.id=='c'"}], "mark": {"type": "text", "align": "left", "baseline": "alphabetic", "fontSize": 14, "fontWeight": "bold", "fill": "#000"},
     "encoding": {"x": {"datum": -7.33, "type": "quantitative", "scale": {"domain": [0,19.4], "nice": false, "zero": false}, "axis": null}, "y": {"datum": 1.147, "type": "quantitative", "scale": {"domain": [0,1.02], "nice": false, "zero": false}, "axis": {"values": [0.2,0.4,0.6,0.8,1], "format": ".1f", "title": null, "tickSize": 2, "labelPadding": 1}}, "text": {"field": "txt"}}}
   ]},
   {"width": 126, "height": 99, "layer": [
    {"data": {"name": "c"}, "transform": [{"filter": "datum.p==2 && datum.k=='fit'"}], "mark": {"type": "line", "strokeWidth": 1.3, "interpolate": "monotone"},
     "encoding": {"x": {"field": "t", "type": "quantitative", "scale": {"domain": [0,19.4], "nice": false, "zero": false}, "axis": null}, "y": {"field": "v", "type": "quantitative", "scale": {"domain": [0,1.02], "nice": false, "zero": false}, "axis": {"values": [0.2,0.4,0.6,0.8,1], "format": ".1f", "title": null, "tickSize": 2, "labelPadding": 1}}, "stroke": {"field": "s", "type": "nominal", "scale": {"domain": ["WT","ctl"], "range": ["#1e1e1e","#f08224"]}, "legend": null}}},
    {"data": {"name": "c"}, "transform": [{"filter": "datum.p==2 && datum.k=='pt'"}], "mark": {"type": "point", "shape": "circle", "filled": false, "strokeWidth": 1.1, "size": 20, "opacity": 1},
     "encoding": {"x": {"field": "t", "type": "quantitative", "scale": {"domain": [0,19.4], "nice": false, "zero": false}, "axis": null}, "y": {"field": "v", "type": "quantitative", "scale": {"domain": [0,1.02], "nice": false, "zero": false}, "axis": {"values": [0.2,0.4,0.6,0.8,1], "format": ".1f", "title": null, "tickSize": 2, "labelPadding": 1}}, "stroke": {"field": "s", "type": "nominal", "scale": {"domain": ["WT","ctl"], "range": ["#1e1e1e","#f08224"]}, "legend": null}}},
    {"data": {"name": "lab"}, "transform": [{"filter": "datum.p==2"}], "mark": {"type": "text", "align": "right", "baseline": "alphabetic", "fontSize": 10, "fill": "#f0304a"},
     "encoding": {"x": {"datum": 18.6, "type": "quantitative", "scale": {"domain": [0,19.4], "nice": false, "zero": false}, "axis": null}, "y": {"datum": 0.907, "type": "quantitative", "scale": {"domain": [0,1.02], "nice": false, "zero": false}, "axis": {"values": [0.2,0.4,0.6,0.8,1], "format": ".1f", "title": null, "tickSize": 2, "labelPadding": 1}}, "text": {"field": "label"}}}
   ]},
   {"width": 126, "height": 99, "layer": [
    {"data": {"name": "c"}, "transform": [{"filter": "datum.p==3 && datum.k=='fit'"}], "mark": {"type": "line", "strokeWidth": 1.3, "interpolate": "monotone"},
     "encoding": {"x": {"field": "t", "type": "quantitative", "scale": {"domain": [0,19.4], "nice": false, "zero": false}, "axis": null}, "y": {"field": "v", "type": "quantitative", "scale": {"domain": [0,1.02], "nice": false, "zero": false}, "axis": {"values": [0.2,0.4,0.6,0.8,1], "format": ".1f", "title": null, "tickSize": 2, "labelPadding": 1}}, "stroke": {"field": "s", "type": "nominal", "scale": {"domain": ["WT","ctl"], "range": ["#1e1e1e","#f08224"]}, "legend": null}}},
    {"data": {"name": "c"}, "transform": [{"filter": "datum.p==3 && datum.k=='pt'"}], "mark": {"type": "point", "shape": "square", "filled": false, "strokeWidth": 1.1, "size": 20, "opacity": 1},
     "encoding": {"x": {"field": "t", "type": "quantitative", "scale": {"domain": [0,19.4], "nice": false, "zero": false}, "axis": null}, "y": {"field": "v", "type": "quantitative", "scale": {"domain": [0,1.02], "nice": false, "zero": false}, "axis": {"values": [0.2,0.4,0.6,0.8,1], "format": ".1f", "title": null, "tickSize": 2, "labelPadding": 1}}, "stroke": {"field": "s", "type": "nominal", "scale": {"domain": ["WT","ctl"], "range": ["#1e1e1e","#f08224"]}, "legend": null}}},
    {"data": {"name": "lab"}, "transform": [{"filter": "datum.p==3"}], "mark": {"type": "text", "align": "right", "baseline": "alphabetic", "fontSize": 10, "fill": "#ee22ee"},
     "encoding": {"x": {"datum": 18.6, "type": "quantitative", "scale": {"domain": [0,19.4], "nice": false, "zero": false}, "axis": null}, "y": {"datum": 0.907, "type": "quantitative", "scale": {"domain": [0,1.02], "nice": false, "zero": false}, "axis": {"values": [0.2,0.4,0.6,0.8,1], "format": ".1f", "title": null, "tickSize": 2, "labelPadding": 1}}, "text": {"field": "label"}}}
   ]},
   {"width": 126, "height": 99, "layer": [
    {"data": {"name": "c"}, "transform": [{"filter": "datum.p==4 && datum.k=='fit'"}], "mark": {"type": "line", "strokeWidth": 1.3, "interpolate": "monotone"},
     "encoding": {"x": {"field": "t", "type": "quantitative", "scale": {"domain": [0,19.4], "nice": false, "zero": false}, "axis": {"values": [0,2.5,5,7.5,10,12.5,15,17.5], "labelExpr": "datum.value % 5 === 0 ? datum.label : ''", "title": "Time (ms)", "tickSize": 2.5, "labelPadding": 1.5, "titlePadding": 5}}, "y": {"field": "v", "type": "quantitative", "scale": {"domain": [0,1.02], "nice": false, "zero": false}, "axis": {"values": [0.2,0.4,0.6,0.8,1], "format": ".1f", "title": null, "tickSize": 2, "labelPadding": 1}}, "stroke": {"field": "s", "type": "nominal", "scale": {"domain": ["WT","ctl"], "range": ["#1e1e1e","#f08224"]}, "legend": null}}},
    {"data": {"name": "c"}, "transform": [{"filter": "datum.p==4 && datum.k=='pt'"}], "mark": {"type": "point", "shape": "circle", "filled": false, "strokeWidth": 1.1, "size": 20, "opacity": 1},
     "encoding": {"x": {"field": "t", "type": "quantitative", "scale": {"domain": [0,19.4], "nice": false, "zero": false}, "axis": {"values": [0,2.5,5,7.5,10,12.5,15,17.5], "labelExpr": "datum.value % 5 === 0 ? datum.label : ''", "title": "Time (ms)", "tickSize": 2.5, "labelPadding": 1.5, "titlePadding": 5}}, "y": {"field": "v", "type": "quantitative", "scale": {"domain": [0,1.02], "nice": false, "zero": false}, "axis": {"values": [0.2,0.4,0.6,0.8,1], "format": ".1f", "title": null, "tickSize": 2, "labelPadding": 1}}, "stroke": {"field": "s", "type": "nominal", "scale": {"domain": ["WT","ctl"], "range": ["#1e1e1e","#f08224"]}, "legend": null}}},
    {"data": {"name": "lab"}, "transform": [{"filter": "datum.p==4"}], "mark": {"type": "text", "align": "right", "baseline": "alphabetic", "fontSize": 10, "fill": "#2a2af0"},
     "encoding": {"x": {"datum": 18.6, "type": "quantitative", "scale": {"domain": [0,19.4], "nice": false, "zero": false}, "axis": {"values": [0,2.5,5,7.5,10,12.5,15,17.5], "labelExpr": "datum.value % 5 === 0 ? datum.label : ''", "title": "Time (ms)", "tickSize": 2.5, "labelPadding": 1.5, "titlePadding": 5}}, "y": {"datum": 0.907, "type": "quantitative", "scale": {"domain": [0,1.02], "nice": false, "zero": false}, "axis": {"values": [0.2,0.4,0.6,0.8,1], "format": ".1f", "title": null, "tickSize": 2, "labelPadding": 1}}, "text": {"field": "label"}}},
    {"data": {"name": "notes"}, "transform": [{"filter": "datum.id=='ni'"}], "mark": {"type": "text", "align": "center", "baseline": "middle", "angle": 270, "fontSize": 10, "fill": "#333"},
     "encoding": {"x": {"datum": -6.77, "type": "quantitative", "scale": {"domain": [0,19.4], "nice": false, "zero": false}, "axis": {"values": [0,2.5,5,7.5,10,12.5,15,17.5], "labelExpr": "datum.value % 5 === 0 ? datum.label : ''", "title": "Time (ms)", "tickSize": 2.5, "labelPadding": 1.5, "titlePadding": 5}}, "y": {"datum": 1.092, "type": "quantitative", "scale": {"domain": [0,1.02], "nice": false, "zero": false}, "axis": {"values": [0.2,0.4,0.6,0.8,1], "format": ".1f", "title": null, "tickSize": 2, "labelPadding": 1}}, "text": {"field": "txt"}}}
   ]},
   {"width": 126, "height": 99, "layer": [
    {"data": {"name": "c"}, "transform": [{"filter": "datum.p==5 && datum.k=='fit'"}], "mark": {"type": "line", "strokeWidth": 1.3, "interpolate": "monotone"},
     "encoding": {"x": {"field": "t", "type": "quantitative", "scale": {"domain": [0,19.4], "nice": false, "zero": false}, "axis": {"values": [0,2.5,5,7.5,10,12.5,15,17.5], "labelExpr": "datum.value % 5 === 0 ? datum.label : ''", "title": "Time (ms)", "tickSize": 2.5, "labelPadding": 1.5, "titlePadding": 5}}, "y": {"field": "v", "type": "quantitative", "scale": {"domain": [0,1.02], "nice": false, "zero": false}, "axis": {"values": [0.2,0.4,0.6,0.8,1], "format": ".1f", "title": null, "tickSize": 2, "labelPadding": 1}}, "stroke": {"field": "s", "type": "nominal", "scale": {"domain": ["WT","ctl"], "range": ["#1e1e1e","#f08224"]}, "legend": null}}},
    {"data": {"name": "c"}, "transform": [{"filter": "datum.p==5 && datum.k=='pt'"}], "mark": {"type": "point", "shape": "circle", "filled": false, "strokeWidth": 1.1, "size": 20, "opacity": 1},
     "encoding": {"x": {"field": "t", "type": "quantitative", "scale": {"domain": [0,19.4], "nice": false, "zero": false}, "axis": {"values": [0,2.5,5,7.5,10,12.5,15,17.5], "labelExpr": "datum.value % 5 === 0 ? datum.label : ''", "title": "Time (ms)", "tickSize": 2.5, "labelPadding": 1.5, "titlePadding": 5}}, "y": {"field": "v", "type": "quantitative", "scale": {"domain": [0,1.02], "nice": false, "zero": false}, "axis": {"values": [0.2,0.4,0.6,0.8,1], "format": ".1f", "title": null, "tickSize": 2, "labelPadding": 1}}, "stroke": {"field": "s", "type": "nominal", "scale": {"domain": ["WT","ctl"], "range": ["#1e1e1e","#f08224"]}, "legend": null}}},
    {"data": {"name": "lab"}, "transform": [{"filter": "datum.p==5"}], "mark": {"type": "text", "align": "right", "baseline": "alphabetic", "fontSize": 10, "fill": "#2a2af0"},
     "encoding": {"x": {"datum": 18.6, "type": "quantitative", "scale": {"domain": [0,19.4], "nice": false, "zero": false}, "axis": {"values": [0,2.5,5,7.5,10,12.5,15,17.5], "labelExpr": "datum.value % 5 === 0 ? datum.label : ''", "title": "Time (ms)", "tickSize": 2.5, "labelPadding": 1.5, "titlePadding": 5}}, "y": {"datum": 0.907, "type": "quantitative", "scale": {"domain": [0,1.02], "nice": false, "zero": false}, "axis": {"values": [0.2,0.4,0.6,0.8,1], "format": ".1f", "title": null, "tickSize": 2, "labelPadding": 1}}, "text": {"field": "label"}}}
   ]},
   {"width": 126, "height": 99, "layer": [
    {"data": {"name": "c"}, "transform": [{"filter": "datum.p==6 && datum.k=='fit'"}], "mark": {"type": "line", "strokeWidth": 1.3, "interpolate": "monotone"},
     "encoding": {"x": {"field": "t", "type": "quantitative", "scale": {"domain": [0,19.4], "nice": false, "zero": false}, "axis": {"values": [0,2.5,5,7.5,10,12.5,15,17.5], "labelExpr": "datum.value % 5 === 0 ? datum.label : ''", "title": "Time (ms)", "tickSize": 2.5, "labelPadding": 1.5, "titlePadding": 5}}, "y": {"field": "v", "type": "quantitative", "scale": {"domain": [0,1.02], "nice": false, "zero": false}, "axis": {"values": [0.2,0.4,0.6,0.8,1], "format": ".1f", "title": null, "tickSize": 2, "labelPadding": 1}}, "stroke": {"field": "s", "type": "nominal", "scale": {"domain": ["WT","ctl"], "range": ["#1e1e1e","#f08224"]}, "legend": null}}},
    {"data": {"name": "c"}, "transform": [{"filter": "datum.p==6 && datum.k=='pt'"}], "mark": {"type": "point", "shape": "square", "filled": false, "strokeWidth": 1.1, "size": 20, "opacity": 1},
     "encoding": {"x": {"field": "t", "type": "quantitative", "scale": {"domain": [0,19.4], "nice": false, "zero": false}, "axis": {"values": [0,2.5,5,7.5,10,12.5,15,17.5], "labelExpr": "datum.value % 5 === 0 ? datum.label : ''", "title": "Time (ms)", "tickSize": 2.5, "labelPadding": 1.5, "titlePadding": 5}}, "y": {"field": "v", "type": "quantitative", "scale": {"domain": [0,1.02], "nice": false, "zero": false}, "axis": {"values": [0.2,0.4,0.6,0.8,1], "format": ".1f", "title": null, "tickSize": 2, "labelPadding": 1}}, "stroke": {"field": "s", "type": "nominal", "scale": {"domain": ["WT","ctl"], "range": ["#1e1e1e","#f08224"]}, "legend": null}}},
    {"data": {"name": "lab"}, "transform": [{"filter": "datum.p==6"}], "mark": {"type": "text", "align": "right", "baseline": "alphabetic", "fontSize": 10, "fill": "#b01e7c"},
     "encoding": {"x": {"datum": 18.6, "type": "quantitative", "scale": {"domain": [0,19.4], "nice": false, "zero": false}, "axis": {"values": [0,2.5,5,7.5,10,12.5,15,17.5], "labelExpr": "datum.value % 5 === 0 ? datum.label : ''", "title": "Time (ms)", "tickSize": 2.5, "labelPadding": 1.5, "titlePadding": 5}}, "y": {"datum": 0.907, "type": "quantitative", "scale": {"domain": [0,1.02], "nice": false, "zero": false}, "axis": {"values": [0.2,0.4,0.6,0.8,1], "format": ".1f", "title": null, "tickSize": 2, "labelPadding": 1}}, "text": {"field": "label"}}}
   ]}
  ], "columns": 3, "spacing": {"row": 10, "column": 29}, "bounds": "flush", "resolve": {"scale": {"x": "independent", "y": "independent"}}}
 ], "spacing": 8, "resolve": {"scale": {"x": "independent", "y": "independent"}}},
 {"vconcat": [
  {"hconcat": [
   {"width": 100, "height": 206, "layer": [
    {"data": {"name": "bars"}, "transform": [{"filter": "datum.f=='b' && datum.g=='WT'"}], "mark": {"type": "bar", "orient": "vertical", "width": 7.7, "stroke": "#4a4a4a", "strokeWidth": 1.4},
     "encoding": {"x": {"field": "site", "type": "quantitative", "scale": {"domain": [-0.95,12], "nice": false, "zero": false}, "axis": {"title": "Carbon Sites", "labels": false, "ticks": false, "titleX": 98, "titleY": 17.5, "titleBaseline": "alphabetic", "titleAlign": "center", "titleFontSize": 10.5}}, "y": {"field": "v", "type": "quantitative", "scale": {"domain": [0,43.95], "nice": false}, "axis": {"values": [5,10,15,20,25,30,35,40], "labelExpr": "datum.value % 10 === 0 ? datum.label : ''", "title": "¹³C-T₁ (s)", "titleFontSize": 10.5, "tickSize": 4, "labelPadding": 2, "titlePadding": 6}}, "color": {"field": "poly", "type": "nominal", "scale": {"domain": ["cellulose","xylan"], "range": ["#fac5dd","#a7def1"]}, "legend": null}}},
    {"data": {"name": "bars"}, "transform": [{"filter": "datum.f=='b' && datum.g=='WT'"}], "mark": {"type": "rule", "color": "#111", "strokeWidth": 1},
     "encoding": {"x": {"field": "site", "type": "quantitative", "scale": {"domain": [-0.95,12], "nice": false, "zero": false}, "axis": {"title": "Carbon Sites", "labels": false, "ticks": false, "titleX": 98, "titleY": 17.5, "titleBaseline": "alphabetic", "titleAlign": "center", "titleFontSize": 10.5}}, "y": {"field": "lo", "type": "quantitative", "scale": {"domain": [0,43.95], "nice": false}, "axis": {"values": [5,10,15,20,25,30,35,40], "labelExpr": "datum.value % 10 === 0 ? datum.label : ''", "title": "¹³C-T₁ (s)", "titleFontSize": 10.5, "tickSize": 4, "labelPadding": 2, "titlePadding": 6}}, "y2": {"field": "hi"}}},
    {"data": {"name": "bars"}, "transform": [{"filter": "datum.f=='b' && datum.g=='WT'"}, {"fold": ["lo","hi"], "as": ["end","e"]}], "mark": {"type": "tick", "orient": "horizontal", "size": 4, "thickness": 1, "color": "#111"},
     "encoding": {"x": {"field": "site", "type": "quantitative", "scale": {"domain": [-0.95,12], "nice": false, "zero": false}, "axis": {"title": "Carbon Sites", "labels": false, "ticks": false, "titleX": 98, "titleY": 17.5, "titleBaseline": "alphabetic", "titleAlign": "center", "titleFontSize": 10.5}}, "y": {"field": "e", "type": "quantitative", "scale": {"domain": [0,43.95], "nice": false}, "axis": {"values": [5,10,15,20,25,30,35,40], "labelExpr": "datum.value % 10 === 0 ? datum.label : ''", "title": "¹³C-T₁ (s)", "titleFontSize": 10.5, "tickSize": 4, "labelPadding": 2, "titlePadding": 6}}}},
    {"data": {"name": "notes"}, "transform": [{"filter": "datum.id=='b'"}], "mark": {"type": "text", "align": "left", "baseline": "alphabetic", "fontSize": 14, "fontWeight": "bold", "fill": "#000"},
     "encoding": {"x": {"datum": -6.22, "type": "quantitative", "scale": {"domain": [-0.95,12], "nice": false, "zero": false}, "axis": {"title": "Carbon Sites", "labels": false, "ticks": false, "titleX": 98, "titleY": 17.5, "titleBaseline": "alphabetic", "titleAlign": "center", "titleFontSize": 10.5}}, "y": {"datum": 43.67, "type": "quantitative", "scale": {"domain": [0,43.95], "nice": false}, "axis": {"values": [5,10,15,20,25,30,35,40], "labelExpr": "datum.value % 10 === 0 ? datum.label : ''", "title": "¹³C-T₁ (s)", "titleFontSize": 10.5, "tickSize": 4, "labelPadding": 2, "titlePadding": 6}}, "text": {"field": "txt"}}},
    {"data": {"name": "notes"}, "transform": [{"filter": "datum.id=='wt'"}], "mark": {"type": "text", "align": "left", "baseline": "alphabetic", "fontSize": 10.5, "fill": "#111"},
     "encoding": {"x": {"datum": -0.65, "type": "quantitative", "scale": {"domain": [-0.95,12], "nice": false, "zero": false}, "axis": {"title": "Carbon Sites", "labels": false, "ticks": false, "titleX": 98, "titleY": 17.5, "titleBaseline": "alphabetic", "titleAlign": "center", "titleFontSize": 10.5}}, "y": {"datum": 45.66, "type": "quantitative", "scale": {"domain": [0,43.95], "nice": false}, "axis": {"values": [5,10,15,20,25,30,35,40], "labelExpr": "datum.value % 10 === 0 ? datum.label : ''", "title": "¹³C-T₁ (s)", "titleFontSize": 10.5, "tickSize": 4, "labelPadding": 2, "titlePadding": 6}}, "text": {"field": "txt"}}}
   ]},
   {"width": 100, "height": 206, "layer": [
    {"data": {"name": "bars"}, "transform": [{"filter": "datum.f=='b' && datum.g=='ctl'"}], "mark": {"type": "bar", "orient": "vertical", "width": 7.7, "stroke": "#4a4a4a", "strokeWidth": 1.4},
     "encoding": {"x": {"field": "site", "type": "quantitative", "scale": {"domain": [-0.95,12], "nice": false, "zero": false}, "axis": null}, "y": {"field": "v", "type": "quantitative", "scale": {"domain": [0,43.95], "nice": false}, "axis": {"values": [5,10,15,20,25,30,35,40], "labels": false, "title": null, "tickSize": 3}}, "color": {"field": "poly", "type": "nominal", "scale": {"domain": ["cellulose","xylan"], "range": ["#fac5dd","#a7def1"]}, "legend": null}}},
    {"data": {"name": "bars"}, "transform": [{"filter": "datum.f=='b' && datum.g=='ctl'"}], "mark": {"type": "rule", "color": "#111", "strokeWidth": 1},
     "encoding": {"x": {"field": "site", "type": "quantitative", "scale": {"domain": [-0.95,12], "nice": false, "zero": false}, "axis": null}, "y": {"field": "lo", "type": "quantitative", "scale": {"domain": [0,43.95], "nice": false}, "axis": {"values": [5,10,15,20,25,30,35,40], "labels": false, "title": null, "tickSize": 3}}, "y2": {"field": "hi"}}},
    {"data": {"name": "bars"}, "transform": [{"filter": "datum.f=='b' && datum.g=='ctl'"}, {"fold": ["lo","hi"], "as": ["end","e"]}], "mark": {"type": "tick", "orient": "horizontal", "size": 4, "thickness": 1, "color": "#111"},
     "encoding": {"x": {"field": "site", "type": "quantitative", "scale": {"domain": [-0.95,12], "nice": false, "zero": false}, "axis": null}, "y": {"field": "e", "type": "quantitative", "scale": {"domain": [0,43.95], "nice": false}, "axis": {"values": [5,10,15,20,25,30,35,40], "labels": false, "title": null, "tickSize": 3}}}},
    {"data": {"name": "notes"}, "transform": [{"filter": "datum.id=='ctl'"}], "mark": {"type": "text", "align": "left", "baseline": "alphabetic", "fontSize": 10.5, "fontStyle": "italic", "fill": "#111"},
     "encoding": {"x": {"datum": -0.65, "type": "quantitative", "scale": {"domain": [-0.95,12], "nice": false, "zero": false}, "axis": null}, "y": {"datum": 45.66, "type": "quantitative", "scale": {"domain": [0,43.95], "nice": false}, "axis": {"values": [5,10,15,20,25,30,35,40], "labels": false, "title": null, "tickSize": 3}}, "text": {"field": "txt"}}},
    {"data": {"name": "notes"}, "transform": [{"filter": "datum.id=='cel'"}], "mark": {"type": "text", "align": "center", "baseline": "alphabetic", "fontSize": 10.5, "fill": "#ff2222"},
     "encoding": {"x": {"datum": 3.2, "type": "quantitative", "scale": {"domain": [-0.95,12], "nice": false, "zero": false}, "axis": null}, "y": {"datum": 28.4, "type": "quantitative", "scale": {"domain": [0,43.95], "nice": false}, "axis": {"values": [5,10,15,20,25,30,35,40], "labels": false, "title": null, "tickSize": 3}}, "text": {"field": "txt"}}},
    {"data": {"name": "notes"}, "transform": [{"filter": "datum.id=='xyl'"}], "mark": {"type": "text", "align": "center", "baseline": "alphabetic", "fontSize": 10.5, "fill": "#2b2bff"},
     "encoding": {"x": {"datum": 9.4, "type": "quantitative", "scale": {"domain": [-0.95,12], "nice": false, "zero": false}, "axis": null}, "y": {"datum": 12.75, "type": "quantitative", "scale": {"domain": [0,43.95], "nice": false}, "axis": {"values": [5,10,15,20,25,30,35,40], "labels": false, "title": null, "tickSize": 3}}, "text": {"field": "txt"}}}
   ]}
  ], "spacing": 9, "bounds": "flush", "resolve": {"scale": {"x": "independent", "y": "independent"}}},
  {"hconcat": [
   {"width": 100, "height": 207, "layer": [
    {"data": {"name": "bars"}, "transform": [{"filter": "datum.f=='d' && datum.g=='WT'"}], "mark": {"type": "bar", "orient": "vertical", "width": 7.7, "stroke": "#4a4a4a", "strokeWidth": 1.4},
     "encoding": {"x": {"field": "site", "type": "quantitative", "scale": {"domain": [-0.75,12.2], "nice": false, "zero": false}, "axis": {"title": "Carbon Sites", "labels": false, "ticks": false, "titleX": 101, "titleY": 18, "titleBaseline": "alphabetic", "titleAlign": "center", "titleFontSize": 10.5}}, "y": {"field": "v", "type": "quantitative", "scale": {"domain": [0,60.5], "nice": false}, "axis": {"values": [5,10,15,20,25,30,35,40,45,50,55], "labelExpr": "datum.value % 10 === 0 ? datum.label : ''", "title": "¹H-T₁ᵨ (ms)", "titleFontSize": 10.5, "tickSize": 4, "labelPadding": 2, "titlePadding": 6}}, "color": {"field": "poly", "type": "nominal", "scale": {"domain": ["cellulose","xylan"], "range": ["#fac5dd","#a7def1"]}, "legend": null}}},
    {"data": {"name": "bars"}, "transform": [{"filter": "datum.f=='d' && datum.g=='WT'"}], "mark": {"type": "rule", "color": "#111", "strokeWidth": 1},
     "encoding": {"x": {"field": "site", "type": "quantitative", "scale": {"domain": [-0.75,12.2], "nice": false, "zero": false}, "axis": {"title": "Carbon Sites", "labels": false, "ticks": false, "titleX": 101, "titleY": 18, "titleBaseline": "alphabetic", "titleAlign": "center", "titleFontSize": 10.5}}, "y": {"field": "lo", "type": "quantitative", "scale": {"domain": [0,60.5], "nice": false}, "axis": {"values": [5,10,15,20,25,30,35,40,45,50,55], "labelExpr": "datum.value % 10 === 0 ? datum.label : ''", "title": "¹H-T₁ᵨ (ms)", "titleFontSize": 10.5, "tickSize": 4, "labelPadding": 2, "titlePadding": 6}}, "y2": {"field": "hi"}}},
    {"data": {"name": "bars"}, "transform": [{"filter": "datum.f=='d' && datum.g=='WT'"}, {"fold": ["lo","hi"], "as": ["end","e"]}], "mark": {"type": "tick", "orient": "horizontal", "size": 4, "thickness": 1, "color": "#111"},
     "encoding": {"x": {"field": "site", "type": "quantitative", "scale": {"domain": [-0.75,12.2], "nice": false, "zero": false}, "axis": {"title": "Carbon Sites", "labels": false, "ticks": false, "titleX": 101, "titleY": 18, "titleBaseline": "alphabetic", "titleAlign": "center", "titleFontSize": 10.5}}, "y": {"field": "e", "type": "quantitative", "scale": {"domain": [0,60.5], "nice": false}, "axis": {"values": [5,10,15,20,25,30,35,40,45,50,55], "labelExpr": "datum.value % 10 === 0 ? datum.label : ''", "title": "¹H-T₁ᵨ (ms)", "titleFontSize": 10.5, "tickSize": 4, "labelPadding": 2, "titlePadding": 6}}}},
    {"data": {"name": "notes"}, "transform": [{"filter": "datum.id=='d'"}], "mark": {"type": "text", "align": "left", "baseline": "alphabetic", "fontSize": 14, "fontWeight": "bold", "fill": "#000"},
     "encoding": {"x": {"datum": -6.07, "type": "quantitative", "scale": {"domain": [-0.75,12.2], "nice": false, "zero": false}, "axis": {"title": "Carbon Sites", "labels": false, "ticks": false, "titleX": 101, "titleY": 18, "titleBaseline": "alphabetic", "titleAlign": "center", "titleFontSize": 10.5}}, "y": {"datum": 60.79, "type": "quantitative", "scale": {"domain": [0,60.5], "nice": false}, "axis": {"values": [5,10,15,20,25,30,35,40,45,50,55], "labelExpr": "datum.value % 10 === 0 ? datum.label : ''", "title": "¹H-T₁ᵨ (ms)", "titleFontSize": 10.5, "tickSize": 4, "labelPadding": 2, "titlePadding": 6}}, "text": {"field": "txt"}}},
    {"data": {"name": "notes"}, "transform": [{"filter": "datum.id=='wt'"}], "mark": {"type": "text", "align": "left", "baseline": "alphabetic", "fontSize": 10.5, "fill": "#111"},
     "encoding": {"x": {"datum": -0.45, "type": "quantitative", "scale": {"domain": [-0.75,12.2], "nice": false, "zero": false}, "axis": {"title": "Carbon Sites", "labels": false, "ticks": false, "titleX": 101, "titleY": 18, "titleBaseline": "alphabetic", "titleAlign": "center", "titleFontSize": 10.5}}, "y": {"datum": 62.25, "type": "quantitative", "scale": {"domain": [0,60.5], "nice": false}, "axis": {"values": [5,10,15,20,25,30,35,40,45,50,55], "labelExpr": "datum.value % 10 === 0 ? datum.label : ''", "title": "¹H-T₁ᵨ (ms)", "titleFontSize": 10.5, "tickSize": 4, "labelPadding": 2, "titlePadding": 6}}, "text": {"field": "txt"}}}
   ]},
   {"width": 100, "height": 207, "layer": [
    {"data": {"name": "bars"}, "transform": [{"filter": "datum.f=='d' && datum.g=='ctl'"}], "mark": {"type": "bar", "orient": "vertical", "width": 7.7, "stroke": "#4a4a4a", "strokeWidth": 1.4},
     "encoding": {"x": {"field": "site", "type": "quantitative", "scale": {"domain": [-0.75,12.2], "nice": false, "zero": false}, "axis": null}, "y": {"field": "v", "type": "quantitative", "scale": {"domain": [0,60.5], "nice": false}, "axis": {"values": [5,10,15,20,25,30,35,40,45,50,55], "labels": false, "title": null, "tickSize": 3}}, "color": {"field": "poly", "type": "nominal", "scale": {"domain": ["cellulose","xylan"], "range": ["#fac5dd","#a7def1"]}, "legend": null}}},
    {"data": {"name": "bars"}, "transform": [{"filter": "datum.f=='d' && datum.g=='ctl'"}], "mark": {"type": "rule", "color": "#111", "strokeWidth": 1},
     "encoding": {"x": {"field": "site", "type": "quantitative", "scale": {"domain": [-0.75,12.2], "nice": false, "zero": false}, "axis": null}, "y": {"field": "lo", "type": "quantitative", "scale": {"domain": [0,60.5], "nice": false}, "axis": {"values": [5,10,15,20,25,30,35,40,45,50,55], "labels": false, "title": null, "tickSize": 3}}, "y2": {"field": "hi"}}},
    {"data": {"name": "bars"}, "transform": [{"filter": "datum.f=='d' && datum.g=='ctl'"}, {"fold": ["lo","hi"], "as": ["end","e"]}], "mark": {"type": "tick", "orient": "horizontal", "size": 4, "thickness": 1, "color": "#111"},
     "encoding": {"x": {"field": "site", "type": "quantitative", "scale": {"domain": [-0.75,12.2], "nice": false, "zero": false}, "axis": null}, "y": {"field": "e", "type": "quantitative", "scale": {"domain": [0,60.5], "nice": false}, "axis": {"values": [5,10,15,20,25,30,35,40,45,50,55], "labels": false, "title": null, "tickSize": 3}}}},
    {"data": {"name": "notes"}, "transform": [{"filter": "datum.id=='ctl'"}], "mark": {"type": "text", "align": "left", "baseline": "alphabetic", "fontSize": 10.5, "fontStyle": "italic", "fill": "#111"},
     "encoding": {"x": {"datum": -0.45, "type": "quantitative", "scale": {"domain": [-0.75,12.2], "nice": false, "zero": false}, "axis": null}, "y": {"datum": 62.25, "type": "quantitative", "scale": {"domain": [0,60.5], "nice": false}, "axis": {"values": [5,10,15,20,25,30,35,40,45,50,55], "labels": false, "title": null, "tickSize": 3}}, "text": {"field": "txt"}}},
    {"data": {"name": "notes"}, "transform": [{"filter": "datum.id=='cel'"}], "mark": {"type": "text", "align": "center", "baseline": "alphabetic", "fontSize": 10.5, "fill": "#ff2222"},
     "encoding": {"x": {"datum": 3.4, "type": "quantitative", "scale": {"domain": [-0.75,12.2], "nice": false, "zero": false}, "axis": null}, "y": {"datum": 49.6, "type": "quantitative", "scale": {"domain": [0,60.5], "nice": false}, "axis": {"values": [5,10,15,20,25,30,35,40,45,50,55], "labels": false, "title": null, "tickSize": 3}}, "text": {"field": "txt"}}},
    {"data": {"name": "notes"}, "transform": [{"filter": "datum.id=='xyl'"}], "mark": {"type": "text", "align": "center", "baseline": "alphabetic", "fontSize": 10.5, "fill": "#2b2bff"},
     "encoding": {"x": {"datum": 9.5, "type": "quantitative", "scale": {"domain": [-0.75,12.2], "nice": false, "zero": false}, "axis": null}, "y": {"datum": 29.9, "type": "quantitative", "scale": {"domain": [0,60.5], "nice": false}, "axis": {"values": [5,10,15,20,25,30,35,40,45,50,55], "labels": false, "title": null, "tickSize": 3}}, "text": {"field": "txt"}}}
   ]}
  ], "spacing": 9, "bounds": "flush", "resolve": {"scale": {"x": "independent", "y": "independent"}}}
 ], "spacing": 28, "resolve": {"scale": {"x": "independent", "y": "independent"}}}
]
}
